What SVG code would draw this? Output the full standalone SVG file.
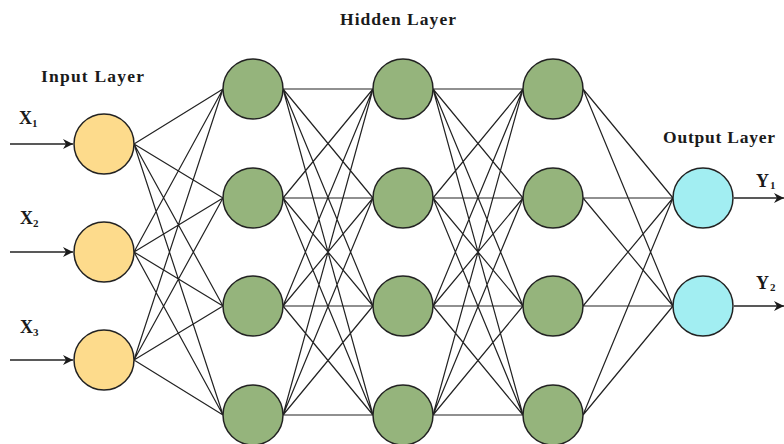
<svg xmlns="http://www.w3.org/2000/svg" width="784" height="444" viewBox="0 0 784 444">
<defs>
<marker id="arr" markerWidth="12" markerHeight="12" refX="10" refY="6" orient="auto" markerUnits="userSpaceOnUse">
<path d="M0,1 L10,6 L0,11 L3,6 Z" fill="#1a1a1a"/>
</marker>
</defs>
<style>
.lbl{font-family:"Liberation Serif","Times New Roman",serif;font-weight:bold;font-size:17.5px;fill:#1a1a1a}
.var{font-family:"Liberation Serif","Times New Roman",serif;font-weight:bold;font-size:18px;fill:#1a1a1a}
.sub{font-size:11px}
.in{fill:#fddb8c;stroke:#222;stroke-width:1.5}
.hid{fill:#95b47c;stroke:#222;stroke-width:1.5}
.out{fill:#a2eef2;stroke:#222;stroke-width:1.5}
.e{stroke:#222;stroke-width:1.2;fill:none}
.a{stroke:#222;stroke-width:1.6;fill:none}
</style>
<rect width="784" height="444" fill="#ffffff"/>
<g id="connectors">
<path class="e" d="M134,144L223,89M134,144L223,198M134,144L223,306M134,144L223,415M134,252L223,89M134,252L223,198M134,252L223,306M134,252L223,415M134,360L223,89M134,360L223,198M134,360L223,306M134,360L223,415"/>
<path class="e" d="M283,89L373,89M283,89L373,198M283,89L373,306M283,89L373,415M283,198L373,89M283,198L373,198M283,198L373,306M283,198L373,415M283,306L373,89M283,306L373,198M283,306L373,306M283,306L373,415M283,415L373,89M283,415L373,198M283,415L373,306M283,415L373,415"/>
<path class="e" d="M433,89L523,89M433,89L523,198M433,89L523,306M433,89L523,415M433,198L523,89M433,198L523,198M433,198L523,306M433,198L523,415M433,306L523,89M433,306L523,198M433,306L523,306M433,306L523,415M433,415L523,89M433,415L523,198M433,415L523,306M433,415L523,415"/>
<path class="e" d="M583,89L673,198M583,89L673,306M583,198L673,198M583,198L673,306M583,306L673,198M583,306L673,306M583,415L673,198M583,415L673,306"/>
<line class="a" x1="10" y1="144" x2="73" y2="144" marker-end="url(#arr)"/>
<line class="a" x1="10" y1="252" x2="73" y2="252" marker-end="url(#arr)"/>
<line class="a" x1="10" y1="360" x2="73" y2="360" marker-end="url(#arr)"/>
<line class="a" x1="734" y1="198" x2="784" y2="198" marker-end="url(#arr)"/>
<line class="a" x1="734" y1="306" x2="784" y2="306" marker-end="url(#arr)"/>
</g>
<g id="input1"><circle class="in" cx="104" cy="144" r="30"/></g>
<g id="input2"><circle class="in" cx="104" cy="252" r="30"/></g>
<g id="input3"><circle class="in" cx="104" cy="360" r="30"/></g>
<g id="h1n1"><circle class="hid" cx="253" cy="89" r="30"/></g>
<g id="h1n2"><circle class="hid" cx="253" cy="198" r="30"/></g>
<g id="h1n3"><circle class="hid" cx="253" cy="306" r="30"/></g>
<g id="h1n4"><circle class="hid" cx="253" cy="415" r="30"/></g>
<g id="h2n1"><circle class="hid" cx="403" cy="89" r="30"/></g>
<g id="h2n2"><circle class="hid" cx="403" cy="198" r="30"/></g>
<g id="h2n3"><circle class="hid" cx="403" cy="306" r="30"/></g>
<g id="h2n4"><circle class="hid" cx="403" cy="415" r="30"/></g>
<g id="h3n1"><circle class="hid" cx="553" cy="89" r="30"/></g>
<g id="h3n2"><circle class="hid" cx="553" cy="198" r="30"/></g>
<g id="h3n3"><circle class="hid" cx="553" cy="306" r="30"/></g>
<g id="h3n4"><circle class="hid" cx="553" cy="415" r="30"/></g>
<g id="output1"><circle class="out" cx="703" cy="198" r="30"/></g>
<g id="output2"><circle class="out" cx="703" cy="306" r="30"/></g>
<g id="labels">
<text class="lbl" x="340" y="25" textLength="116" lengthAdjust="spacing">Hidden Layer</text>
<text class="lbl" x="41" y="82" textLength="103" lengthAdjust="spacing">Input Layer</text>
<text class="lbl" x="663" y="143" textLength="112" lengthAdjust="spacing">Output Layer</text>
<text class="var" x="19" y="124">X<tspan class="sub" dy="3">1</tspan></text>
<text class="var" x="20" y="224">X<tspan class="sub" dy="3">2</tspan></text>
<text class="var" x="20" y="333">X<tspan class="sub" dy="3">3</tspan></text>
<text class="var" x="756" y="187">Y<tspan class="sub" dx="1" dy="2">1</tspan></text>
<text class="var" x="756" y="289">Y<tspan class="sub" dx="1" dy="2">2</tspan></text>
</g>
</svg>
